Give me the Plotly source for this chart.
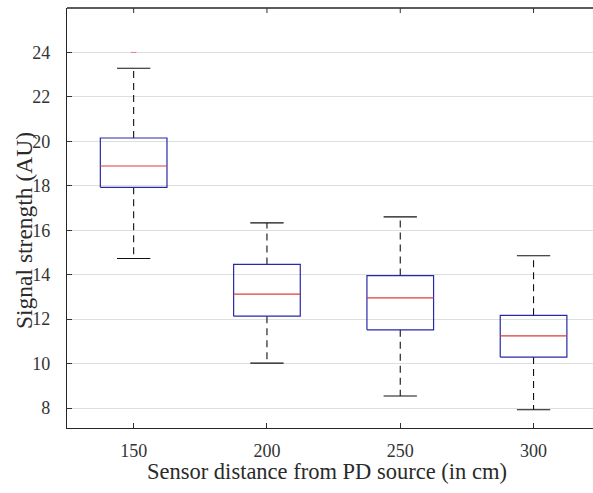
import plotly.graph_objects as go

categories = ["150", "200", "250", "300"]
lower_whisker = [14.73, 10.02, 8.54, 7.92]
q1 = [17.93, 12.13, 11.52, 10.29]
median = [18.89, 13.12, 12.96, 11.25]
q3 = [20.15, 14.46, 13.96, 12.17]
upper_whisker = [23.29, 16.33, 16.6, 14.85]
outlier_cat = ["150"]
outlier_val = [24.0]
yticks = [8, 10, 12, 14, 16, 18, 20, 22, 24]

pos = {c: i + 1 for i, c in enumerate(categories)}
bw = 0.25   # half box width
cw = 0.125  # half cap width

box_x, box_y = [], []
med_x, med_y = [], []
wh_x, wh_y = [], []
cap_x, cap_y = [], []
for i, c in enumerate(categories):
    p = pos[c]
    box_x += [p - bw, p + bw, p + bw, p - bw, p - bw, None]
    box_y += [q1[i], q1[i], q3[i], q3[i], q1[i], None]
    med_x += [p - bw, p + bw, None]
    med_y += [median[i], median[i], None]
    wh_x += [p, p, None, p, p, None]
    wh_y += [q3[i], upper_whisker[i], None, q1[i], lower_whisker[i], None]
    cap_x += [p - cw, p + cw, None, p - cw, p + cw, None]
    cap_y += [upper_whisker[i], upper_whisker[i], None, lower_whisker[i], lower_whisker[i], None]

fig = go.Figure()
fig.add_trace(go.Scatter(x=wh_x, y=wh_y, mode="lines",
                         line=dict(color="#111111", width=1.1, dash="7px,5px"),
                         hoverinfo="skip", showlegend=False))
fig.add_trace(go.Scatter(x=cap_x, y=cap_y, mode="lines",
                         line=dict(color="#111111", width=1.1),
                         hoverinfo="skip", showlegend=False))
fig.add_trace(go.Scatter(x=box_x, y=box_y, mode="lines",
                         line=dict(color="#2828a8", width=1.2),
                         hoverinfo="skip", showlegend=False))
fig.add_trace(go.Scatter(x=med_x, y=med_y, mode="lines",
                         line=dict(color="#e03a3a", width=1.2),
                         hoverinfo="skip", showlegend=False))
fig.add_trace(go.Scatter(x=[pos[c] for c in outlier_cat], y=outlier_val, mode="markers",
                         marker=dict(symbol="line-ew", size=4, color="#f08080",
                                     line=dict(color="#f08080", width=1)),
                         hoverinfo="skip", showlegend=False))

# top frame line and top ticks (MATLAB-style frame; right edge lies outside the view)
shapes = [dict(type="line", xref="paper", yref="paper", x0=0, x1=1.0, y0=1, y1=1,
               line=dict(color="#262626", width=1.3), layer="above")]
for c in categories:
    shapes.append(dict(type="line", xref="x", yref="paper", x0=pos[c], x1=pos[c],
                       y0=1, y1=0.988, line=dict(color="#333333", width=1), layer="above"))

font_family = "Liberation Serif, Times New Roman, serif"
fig.update_layout(
    width=612, height=493,
    margin=dict(l=67, r=0, t=8, b=65, autoexpand=False),
    paper_bgcolor="white", plot_bgcolor="white",
    font=dict(family=font_family, color="#333333"),
    showlegend=False,
    shapes=shapes,
    annotations=[
        dict(text="Sensor distance from PD source (in cm)", xref="paper", yref="paper",
             x=0.5, y=0, xanchor="center", yanchor="middle", yshift=-43, xshift=-13,
             showarrow=False,
             font=dict(size=22.5, family=font_family, color="#2a2a2a")),
        dict(text="Signal strength (AU)", xref="paper", yref="paper",
             x=0, y=0.469, xanchor="center", yanchor="middle", xshift=-43, textangle=-90,
             showarrow=False, font=dict(size=23.5, family=font_family, color="#2a2a2a")),
    ],
)
fig.update_xaxes(
    range=[0.5, 0.5 + (612 - 67) / 133.3], automargin=False,
    tickmode="array", tickvals=[pos[c] for c in categories], ticktext=categories,
    ticks="inside", ticklen=5, tickcolor="#333333", ticklabelstandoff=6,
    showline=True, linecolor="#262626", linewidth=1.3, mirror=False,
    showgrid=False, zeroline=False,
    tickfont=dict(size=18, family=font_family, color="#333333"),
)
fig.update_yaxes(
    range=[7.1, 26.0], automargin=False,
    tickmode="array", tickvals=yticks,
    ticks="inside", ticklen=5, tickcolor="#333333", ticklabelstandoff=12,
    showline=True, linecolor="#262626", linewidth=1.3, mirror=False,
    showgrid=True, gridcolor="#dedede", gridwidth=1, zeroline=False,
    tickfont=dict(size=18, family=font_family, color="#333333"),
)

fig.write_html(
    "out.html",
    config={"displayModeBar": False},
    post_script="document.body.style.margin='0';document.body.style.overflow='hidden';",
)
